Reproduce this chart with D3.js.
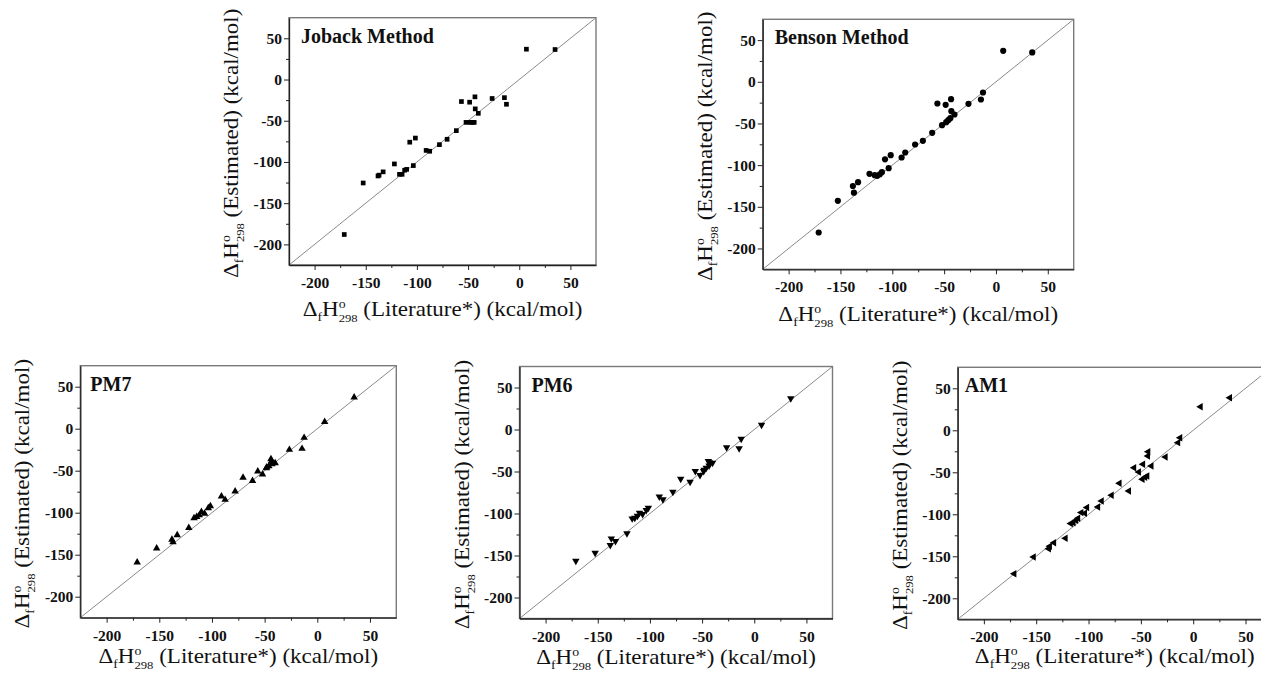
<!DOCTYPE html>
<html>
<head>
<meta charset="utf-8">
<script src="https://cdn.jsdelivr.net/npm/d3@7"></script>
<style>
  body { margin: 0; background: #fff; }
  svg { display: block; }
  .tick text { font-family: "Liberation Serif", serif; font-weight: bold; font-size: 15.5px; fill: #111; }
  .tick line { stroke: #222; }
  .domain { stroke: #222; stroke-width: 1.3; }
  .axis-title { font-family: "Liberation Serif", serif; font-size: 20px; fill: #111; }
  .panel-title { font-family: "Liberation Serif", serif; font-weight: bold; font-size: 20px; fill: #111; }
</style>
</head>
<body>
<script>
'use strict';

// Literature heats of formation (kcal/mol), one per compound
const literature = [-171, -152.5, -138, -137, -133, -122, -117, -114.5, -112, -110, -107, -103.5, -101.5,
	-91, -87.5, -78, -70.5, -61.5, -56.5, -52, -48.5, -48, -46, -44, -43.3, -43, -40, -26.5, -14.5, -12.5, 7, 35];

// Estimated values, same compound order
const joback = [-188, -125.5, -117, -116, -112, -102.4, -115, -115, -110, -109, -76, -104.4, -71,
	-86, -87, -79, -72.5, -62, -26.7, -52, -27.5, -52, -52, -52, -21, -35.6, -41, -23, -22, -30, 36.8, 36.4];
const benson = [-180.8, -142.8, -125, -133, -120.4, -110.4, -112, -112.8, -111, -108.4, -93, -103.6, -88,
	-90.8, -84.8, -75.2, -70.8, -61.2, -26, -52, -27.6, -48.4, -46, -43.6, -20.8, -35.2, -39.2, -26.4, -21.2, -12.8, 37.2, 35.3];
const pm7 = [-159, -142.5, -132, -135, -126.6, -117.9, -106.4, -105, -103, -99, -101, -94.5, -92,
	-80.6, -84.5, -74.6, -58.3, -62, -50.8, -54.4, -47, -46, -44.5, -36.2, -38.6, -42, -41, -25, -23.8, -10.7, 8.3, 37.3];
const pm6 = [-156.4, -147, -137.7, -129.8, -133, -123.8, -106, -105.2, -103, -99.3, -100.8, -96, -93.3,
	-80, -83.3, -74.3, -58.8, -62.4, -49.6, -54.4, -49.6, -48, -45.7, -37.7, -43, -39.3, -39.8, -21.4, -22.6, -11.2, 5.5, 36.9];
const am1 = [-170.7, -150.8, -141, -138, -133.8, -128.6, -111, -110, -107, -104.8, -98, -98.8, -92,
	-91.3, -84.2, -77.4, -63, -72.3, -44.5, -49.6, -58.3, -40.5, -56, -54.4, -30.6, -25.5, -42.5, -31.8, -14.7, -8.8, 28.1, 38.8];

const panelNames = ["Joback Method", "Benson Method", "PM7", "PM6", "AM1"];
const majorTicks = [-200, -150, -100, -50, 0, 50];
const minorTicks = [-175, -125, -75, -25, 25];
const axisDomain = [-225, 75];

const estimates = [joback, benson, pm7, pm6, am1];

// panel boxes on the page and marker style
const layout = [
	{ left: 289, top: 17.7, width: 307, height: 247.3, titleDx: 12, xTitleDy: 51, symbol: d3.symbolSquare, size: 22, rotate: 0 },
	{ left: 762.7, top: 19.3, width: 311, height: 250, titleDx: 12, xTitleDy: 52, symbol: d3.symbolCircle, size: 30, rotate: 0 },
	{ left: 80.3, top: 365.7, width: 316, height: 252, titleDx: 10, xTitleDy: 45, symbol: d3.symbolTriangle, size: 24, rotate: 0 },
	{ left: 519.5, top: 366.5, width: 313, height: 252, titleDx: 12, xTitleDy: 45, symbol: d3.symbolTriangle, size: 24, rotate: 180 },
	{ left: 957.7, top: 367.3, width: 314, height: 252, titleDx: 7, xTitleDy: 44, symbol: d3.symbolTriangle, size: 24, rotate: -90 }
];

const svg = d3.select("body").append("svg")
	.attr("width", 1261)
	.attr("height", 675);

// Δ_f H°_298 followed by the rest of the title
const deltaLabel = (text, rest) => {
	text.append("tspan").text("Δ");
	text.append("tspan").attr("font-size", 12).attr("dy", 5).text("f");
	text.append("tspan").attr("dy", -5).text("H");
	text.append("tspan").attr("font-size", 12).attr("dy", -8).text("o");
	text.append("tspan").attr("font-size", 11).attr("dx", -6).attr("dy", 14).text("298");
	text.append("tspan").attr("dy", -6).text("\u00a0" + rest);
}

const drawPanel = (name, values, p) => {
	const x = d3.scaleLinear().domain(axisDomain).range([0, p.width]);
	const y = d3.scaleLinear().domain(axisDomain).range([p.height, 0]);

	const g = svg.append("g")
		.attr("transform", `translate(${p.left},${p.top})`);

	g.append("rect")
		.attr("width", p.width)
		.attr("height", p.height)
		.attr("fill", "none")
		.attr("stroke", "#7a7a7a")
		.attr("stroke-width", 1.4);

	g.append("line")
		.attr("x1", x(axisDomain[0])).attr("y1", y(axisDomain[0]))
		.attr("x2", x(axisDomain[1])).attr("y2", y(axisDomain[1]))
		.attr("stroke", "#8a8a8a")
		.attr("stroke-width", 1);

	const pts = literature.map((lit, i) => [lit, values[i]]);
	g.selectAll("path.pt")
		.data(pts)
		.join("path")
		.attr("class", "pt")
		.attr("d", d3.symbol(p.symbol, p.size))
		.attr("transform", d => `translate(${x(d[0])},${y(d[1])}) rotate(${p.rotate})`)
		.attr("fill", "#000");

	// minor ticks
	g.append("g")
		.attr("transform", `translate(0,${p.height})`)
		.call(d3.axisBottom(x).tickValues(minorTicks).tickSize(3).tickFormat(""))
		.call(s => s.select(".domain").remove());
	g.append("g")
		.call(d3.axisLeft(y).tickValues(minorTicks).tickSize(3).tickFormat(""))
		.call(s => s.select(".domain").remove());

	// major ticks
	g.append("g")
		.attr("transform", `translate(0,${p.height})`)
		.call(d3.axisBottom(x).tickValues(majorTicks).tickSize(5).tickSizeOuter(0)
			.tickPadding(7).tickFormat(d => String(d)));
	g.append("g")
		.call(d3.axisLeft(y).tickValues(majorTicks).tickSize(5).tickSizeOuter(0)
			.tickPadding(2).tickFormat(d => String(d)));

	g.append("text")
		.attr("class", "panel-title")
		.attr("x", p.titleDx)
		.attr("y", 25)
		.text(name);

	const xt = g.append("text")
		.attr("class", "axis-title")
		.attr("text-anchor", "middle")
		.attr("transform", `translate(${p.width / 2},${p.height + p.xTitleDy}) scale(1.15,1)`);
	deltaLabel(xt, "(Literature*) (kcal/mol)");

	const yt = g.append("text")
		.attr("class", "axis-title")
		.attr("text-anchor", "middle")
		.attr("transform", `translate(-51,${p.height / 2 + 2}) rotate(-90) scale(1.15,1)`);
	deltaLabel(yt, "(Estimated) (kcal/mol)");
}

panelNames.forEach((name, i) => drawPanel(name, estimates[i], layout[i]));
</script>
</body>
</html>
